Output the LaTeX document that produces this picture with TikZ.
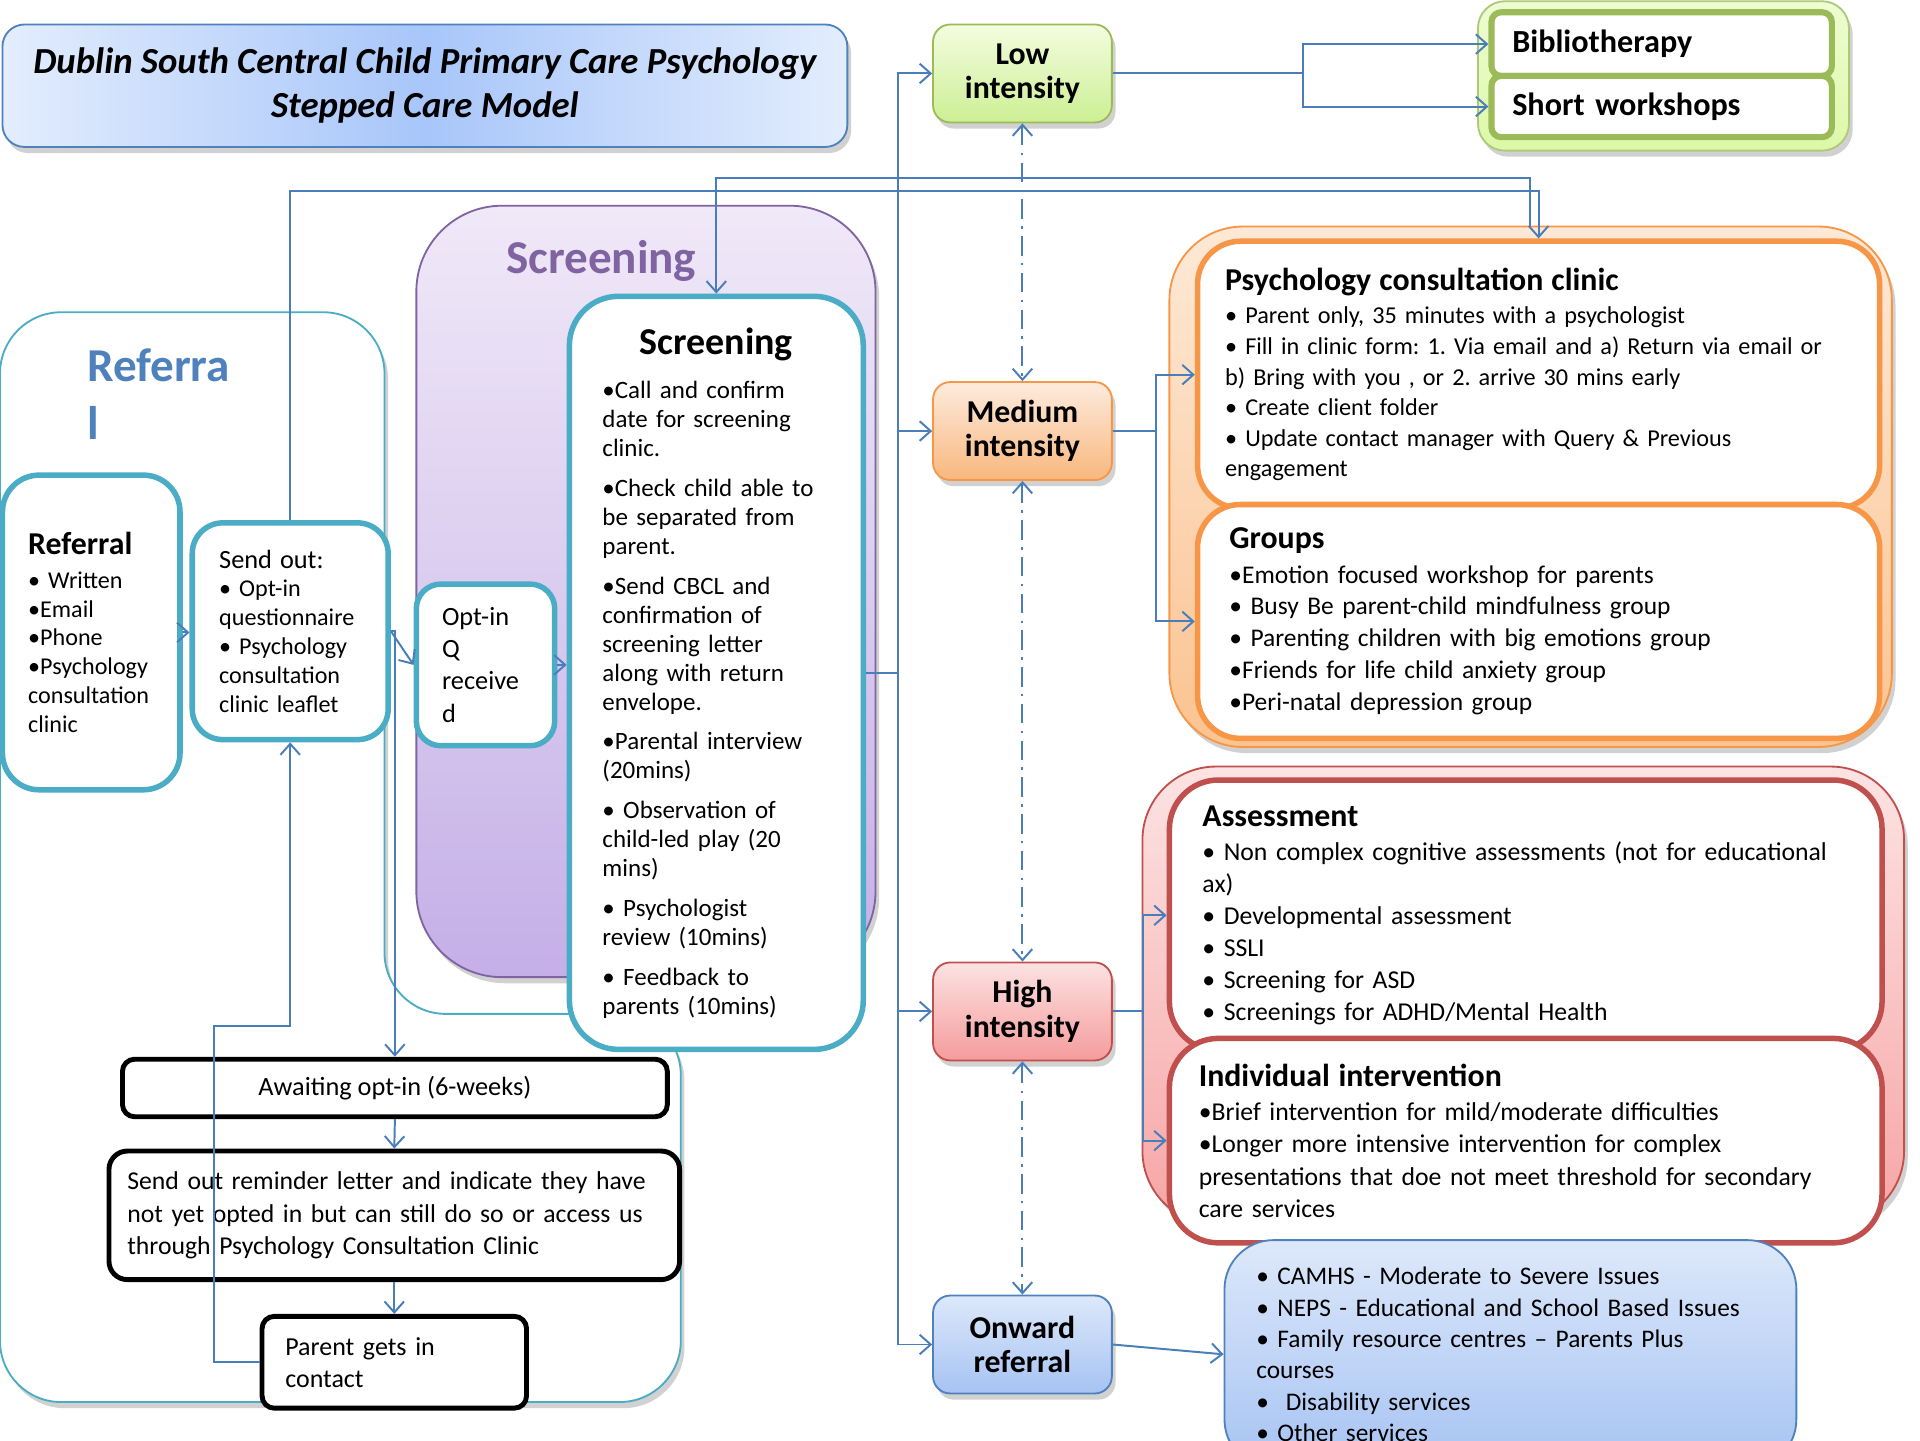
\documentclass[tikz,border=0pt]{standalone}
\usepackage{fontspec}
\setmainfont{Carlito}
\usetikzlibrary{arrows.meta,shadows}
\hyphenpenalty=10000
\frenchspacing

\definecolor{linkblue}{HTML}{4A7EBB}
\definecolor{tealline}{HTML}{4BACC6}
\definecolor{purpline}{HTML}{8064A2}
\definecolor{orangeline}{HTML}{F79646}
\definecolor{redline}{HTML}{C0504D}
\definecolor{greenline}{HTML}{9BBB59}
\definecolor{blueline}{HTML}{4F81BD}
\definecolor{lowtop}{HTML}{F3FDE0}
\definecolor{lowbot}{HTML}{CDEF94}
\definecolor{medtop}{HTML}{FDEBDD}
\definecolor{medbot}{HTML}{F9B77E}
\definecolor{hightop}{HTML}{FDE2E2}
\definecolor{highbot}{HTML}{F49C9C}
\definecolor{ontop}{HTML}{DDE8FA}
\definecolor{onbot}{HTML}{A6C3F3}
\definecolor{libtop}{HTML}{EEFCD2}
\definecolor{libbot}{HTML}{DDF8A8}
\definecolor{orgtop}{HTML}{FDE9D7}
\definecolor{orgbot}{HTML}{FBC390}
\definecolor{redtop}{HTML}{FDE3E3}
\definecolor{redbot}{HTML}{F6A5A5}
\definecolor{purptop}{HTML}{F0E9F8}
\definecolor{purpbot}{HTML}{C5AFE7}
\definecolor{titleside}{HTML}{E3EDFD}
\definecolor{titlemid}{HTML}{A8C6FA}

\tikzset{
  shadowed/.style={drop shadow={shadow xshift=3pt,shadow yshift=-5pt,opacity=0.3,fill=black!60}},
  flow/.style={draw=linkblue, line width=1.6pt, -{Straight Barb[length=9pt,width=16pt]}},
  flowboth/.style={draw=linkblue, line width=1.6pt,
    {Straight Barb[length=9pt,width=16pt]}-{Straight Barb[length=9pt,width=16pt]},
    dash pattern=on 16pt off 6pt on 2pt off 6pt},
  level/.style={draw=#1, line width=1.5pt, rounded corners=14pt, minimum width=146pt,
    minimum height=80pt, align=center, font=\fontsize{26}{28}\selectfont\bfseries, shadowed},
  panel/.style={draw=#1, line width=4.5pt, fill=white, align=left, inner xsep=26pt},
  group/.style={draw=#1, line width=1.5pt, shadowed},
  stepbox/.style={draw=black, line width=4pt, fill=white, rounded corners=10pt,
    font=\fontsize{21.5}{26.3}\selectfont},
}

\begin{document}
\begin{tikzpicture}[x=1pt,y=-1pt]
\useasboundingbox (0,0) rectangle (1568,1176);
\clip (0,0) rectangle (1568,1176);

% title
\node[draw=blueline, line width=1.5pt, rounded corners=18pt, minimum width=690pt, minimum height=100pt,
  left color=titleside, right color=titleside, middle color=titlemid, shadowed, align=center,
  font=\fontsize{30}{36}\selectfont\bfseries\itshape] (title) at (347,70)
  {Dublin South Central Child Primary Care Psychology\\Stepped Care Model};

% referral area
\draw[tealline, line width=1.5pt, fill=white, rounded corners=50pt, shadowed]
  (0,700) -- (0,255) -- (314,255) -- (314,828) -- (556,828) -- (556,1145) -- (0,1145) -- cycle;
\node[text=blueline, font=\fontsize{38.5}{47}\selectfont\bfseries, align=left, anchor=west, inner sep=0pt]
  (reflabel) at (71,322) {Referra\\l};

% screening area
\node[group=purpline, rounded corners=70pt, top color=purptop, bottom color=purpbot,
  minimum width=375pt, minimum height=630pt] (scrgroup) at (527.5,483) {};
\node[text=purpline, font=\fontsize{38.5}{40}\selectfont\bfseries] (scrlabel) at (491,213) {Screening};

\node[panel=tealline, rounded corners=30pt, minimum width=145pt, minimum height=257pt, text width=103pt,
  inner xsep=21pt, font=\fontsize{19.7}{23.6}\selectfont] (refbox) at (74.5,516.5)
  {{\fontsize{26}{23.6}\selectfont\bfseries Referral}\\[4pt]• Written\\•Email\\•Phone\\•Psychology\\consultation\\clinic};
\node[panel=tealline, rounded corners=25pt, minimum width=160pt, minimum height=177pt, text width=116pt,
  inner xsep=22pt, font=\fontsize{19.7}{23.6}\selectfont] (send) at (237,515.5)
  {{\fontsize{21.5}{23.6}\selectfont Send out:}\\• Opt-in\\questionnaire\\• Psychology\\consultation\\clinic leaflet};
\node[panel=tealline, rounded corners=20pt, minimum width=113pt, minimum height=132pt, text width=71pt,
  inner xsep=21pt, font=\fontsize{21.5}{26.3}\selectfont] (optin) at (396.5,543) {Opt-in\\Q\\receive\\d};

\node[panel=tealline, rounded corners=40pt, minimum width=240pt, minimum height=615pt, text width=186pt,
  inner xsep=27pt, font=\fontsize{20.4}{23.6}\selectfont] (scrbox) at (585,549.5)
  {\makebox[\linewidth]{\fontsize{31}{30}\selectfont\bfseries Screening}\\[13pt]
   •Call and confirm\\date for screening\\clinic.\\[9pt]
   •Check child able to\\be separated from\\parent.\\[9pt]
   •Send CBCL and\\confirmation of\\screening letter\\along with return\\envelope.\\[9pt]
   •Parental interview\\(20mins)\\[9pt]
   • Observation of\\child-led play (20\\mins)\\[9pt]
   • Psychologist\\review (10mins)\\[9pt]
   • Feedback to\\parents (10mins)};

\node[stepbox, minimum width=445pt, minimum height=47pt] (await) at (322.5,888.5) {Awaiting opt-in (6-weeks)};
\node[stepbox, rounded corners=15pt, minimum width=466pt, minimum height=105pt, text width=436pt,
  inner xsep=15pt, align=left, font=\fontsize{21}{26.3}\selectfont] (remind) at (322,992.5)
  {Send out reminder letter and indicate they have\\not yet opted in but can still do so or access us\\through Psychology Consultation Clinic};
\node[stepbox, minimum width=216pt, minimum height=75pt, text width=178pt, inner xsep=19pt,
  align=left, font=\fontsize{21.2}{26}\selectfont] (parent) at (322,1112.5) {Parent gets in\\contact};

% levels of care
\node[level=greenline, top color=lowtop, bottom color=lowbot] (low) at (835,60) {Low\\intensity};
\node[level=orangeline, top color=medtop, bottom color=medbot] (medium) at (835,352) {Medium\\intensity};
\node[level=redline, top color=hightop, bottom color=highbot] (high) at (835,826) {High\\intensity};
\node[level=blueline, top color=ontop, bottom color=onbot] (onward) at (835,1098) {Onward\\referral};

% low intensity
\node[group=greenline!80, rounded corners=22pt, top color=libtop, bottom color=libbot,
  minimum width=303pt, minimum height=122pt] (libgroup) at (1358.5,62) {};
\node[panel=greenline, line width=5pt, rounded corners=8pt, minimum width=278pt, minimum height=52pt,
  text width=244pt, inner xsep=17pt, font=\fontsize{26.3}{28}\selectfont\bfseries] (biblio) at (1357,36) {Bibliotherapy};
\node[panel=greenline, line width=5pt, rounded corners=8pt, minimum width=278pt, minimum height=50pt,
  text width=244pt, inner xsep=17pt, font=\fontsize{26.3}{28}\selectfont\bfseries] (short) at (1357,87) {Short workshops};

% medium intensity
\node[group=orangeline, rounded corners=60pt, top color=orgtop, bottom color=orgbot,
  minimum width=590pt, minimum height=425pt] (orggroup) at (1250,397.5) {};
\node[panel=orangeline, rounded corners=35pt, minimum width=557pt, minimum height=218pt, text width=512pt,
  inner xsep=22.5pt, font=\fontsize{19.8}{25}\selectfont] (clinic) at (1256.5,306)
  {{\fontsize{26}{25}\selectfont\bfseries Psychology consultation clinic}\\[2pt]
   • Parent only, 35 minutes with a psychologist\\
   • Fill in clinic form: 1. Via email and a) Return via email or\\
   b) Bring with you , or 2. arrive 30 mins early\\
   • Create client folder\\
   • Update contact manager with Query \& Previous\\
   engagement};
\node[panel=orangeline, rounded corners=35pt, minimum width=557pt, minimum height=191pt, text width=505pt,
  font=\fontsize{20.8}{26}\selectfont] (groups) at (1256.5,507.5)
  {{\fontsize{26}{26}\selectfont\bfseries Groups}\\[2pt]
   •Emotion focused workshop for parents\\
   • Busy Be parent-child mindfulness group\\
   • Parenting children with big emotions group\\
   •Friends for life child anxiety group\\
   •Peri-natal depression group};

% high intensity
\node[group=redline, rounded corners=60pt, top color=redtop, bottom color=redbot,
  minimum width=622pt, minimum height=374pt] (redgroup) at (1244,813) {};
\node[panel=redline, rounded corners=40pt, minimum width=582pt, minimum height=221pt, text width=528pt,
  inner xsep=27pt, font=\fontsize{21}{26}\selectfont] (assess) at (1246,747.5)
  {{\fontsize{26}{26}\selectfont\bfseries Assessment}\\[2pt]
   • Non complex cognitive assessments (not for educational\\
   ax)\\
   • Developmental assessment\\
   • SSLI\\
   • Screening for ASD\\
   • Screenings for ADHD/Mental Health};
\node[panel=redline, rounded corners=40pt, minimum width=582pt, minimum height=167pt, text width=534pt,
  inner xsep=24pt, font=\fontsize{21}{26.3}\selectfont] (indiv) at (1246,931.5)
  {{\fontsize{26}{26.3}\selectfont\bfseries Individual intervention}\\[2pt]
   •Brief intervention for mild/moderate difficulties\\
   •Longer more intensive intervention for complex\\
   presentations that doe not meet threshold for secondary\\
   care services};

% onward referral
\node[draw=blueline, line width=1.5pt, rounded corners=40pt, top color=ontop, bottom color=onbot,
  text width=415pt, inner xsep=26pt, inner ysep=22pt, align=left, anchor=north,
  font=\fontsize{20.7}{25.6}\selectfont] (others) at (1233.5,1012)
  {• CAMHS - Moderate to Severe Issues\\
   • NEPS - Educational and School Based Issues\\
   • Family resource centres – Parents Plus\\
   courses\\
   •~ Disability services\\
   • Other services};

% connectors
\coordinate (trunk) at (733,549.5);
\draw[flow] (scrbox.east) -- (trunk) |- (low.west);
\draw[flow] (trunk) |- (medium.west);
\draw[flow] (trunk) |- (high.west);
\draw[flow] (trunk) |- (onward.west);

\draw[flow] (low.east) -- ++(155,0) |- (biblio.west);
\draw[flow] (low.east) -- ++(155,0) |- (short.west);
\draw[flow] (medium.east) -- ++(35,0) |- (clinic.west);
\draw[flow] (medium.east) -- ++(35,0) |- (groups.west);
\draw[flow] (high.east) -- ++(25,0) |- (assess.west);
\draw[flow] (high.east) -- ++(25,0) |- (indiv.west);
\draw[flow] (onward.east) -- (others.west);

\draw[flowboth] (low.south) -- (medium.north);
\draw[flowboth] (medium.south) -- (high.north);
\draw[flowboth] (high.south) -- (onward.north);

\draw[flow] (refbox.east) -- (refbox.east -| send.west);
\draw[flow] (send.east) -- (optin.west);
\draw[flow] (send.east) -| (await.north);
\draw[flow] (optin.east) -- (optin.east -| scrbox.west);
\draw[flow] (await.south) -- (remind.north);
\draw[flow] (remind.south) -- (parent.north);
\draw[flow] (parent.west) -| (175,838) -| (send.south);

\draw[flow] (send.north) |- ([yshift=39pt]clinic.north) -- (clinic.north);
\draw[flow] ([xshift=-7pt,yshift=10pt]clinic.north) -- ([xshift=-7pt,yshift=49pt]clinic.north) -| (scrbox.north);
\end{tikzpicture}
\end{document}
